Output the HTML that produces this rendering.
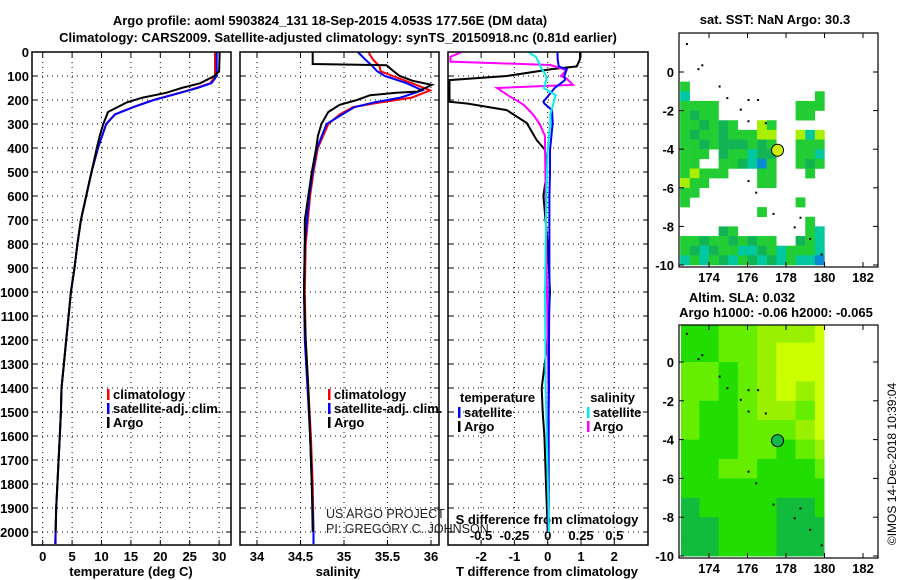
<!DOCTYPE html>
<html><head><meta charset="utf-8"><style>
html,body{margin:0;padding:0;background:#fff;}
svg{display:block;font-family:"Liberation Sans",Arial,sans-serif;}
.b{font-weight:bold;font-size:13px;}
</style></head><body>
<svg id="c" width="900" height="580" xmlns="http://www.w3.org/2000/svg">
<text class="b" x="330" y="25" text-anchor="middle" font-size="14">Argo profile: aoml 5903824_131 18-Sep-2015 4.053S 177.56E (DM data)</text>
<text class="b" x="338" y="42" text-anchor="middle" font-size="14">Climatology: CARS2009. Satellite-adjusted climatology: synTS_20150918.nc (0.81d earlier)</text>
</svg>
<script>
// ---- data ----
const depthTicks=[0,100,200,300,400,500,600,700,800,900,1000,1100,1200,1300,1400,1500,1600,1700,1800,1900,2000];
const tempTicks=[0,5,10,15,20,25,30];
const salTicks=[34,34.5,35,35.5,36];
const tdiffTicks=[-2,-1,0,1,2];
const sdiffTicks=[-0.5,-0.25,0,0.25,0.5];
const sdiffTickLabels=["-0.5","-0.25","0","0.25","0.5"];
const tArgoDepth=[0,80,100,130,150,170,190,210,250,300,350,400,500,600,700,800,900,1000,1100,1200,1300,1400,1500,1600,1700,1800,1900,2000];
const tArgo=[30.1,30.0,29.2,26.8,23.6,21,17,14.3,11.1,10.3,9.7,9.2,8.3,7.4,6.5,5.9,5.4,4.8,4.4,4.0,3.6,3.2,3.1,2.9,2.7,2.5,2.3,2.2];
const tClimDepth=[0,90,100,130,150,170,200,230,260,300,350,400,500,600,700,800,900,1000,1100,1200,1300,1400,1500,1600,1700,1800,1900,2000,2050];
const tClim=[29.3,29.3,29.3,28.5,26.1,23.3,18.8,15.3,12.3,10.8,10.1,9.4,8.3,7.4,6.5,5.9,5.4,4.8,4.4,4.0,3.6,3.2,3.1,2.9,2.7,2.5,2.3,2.2,2.1];
const tSat=[29.6,29.6,29.6,28.7,26.3,23.4,18.9,15.4,12.3,10.8,10.1,9.4,8.3,7.4,6.5,5.9,5.4,4.8,4.4,4.0,3.6,3.2,3.1,2.9,2.7,2.5,2.3,2.2,2.2];
const sArgoDepth=[0,50,55,80,100,120,137,165,170,180,200,220,250,300,350,400,500,600,700,800,1000,1200,1400,1600,1800,2000];
const sArgo=[34.64,34.64,35.49,35.57,35.64,35.79,36.01,35.84,35.6,35.3,35.15,34.95,34.82,34.74,34.7,34.68,34.63,34.59,34.55,34.55,34.54,34.56,34.59,34.61,34.63,34.64];
const sClimDepth=[0,30,60,80,100,130,160,190,210,230,260,300,400,500,600,800,1000,1200,1400,1600,1800,2000,2050];
const sClim=[35.28,35.33,35.41,35.42,35.56,35.78,35.99,35.78,35.42,35.1,34.95,34.82,34.7,34.65,34.61,34.56,34.55,34.56,34.59,34.62,34.64,34.65,34.65];
const sSat=[35.16,35.24,35.33,35.38,35.47,35.72,35.9,35.65,35.35,35.12,34.98,34.8,34.69,34.64,34.6,34.55,34.54,34.55,34.58,34.61,34.63,34.65,34.65];
const dDepth=[0,30,60,72,100,117,150,207,215,242,296,367,408,505,600,800,1000,1200,1400,1500,1600,1800,2000];
const dTArgo=[0.97,0.97,0.87,0.1,-1.23,-2.95,-2.95,-2.95,-2.4,-1.23,-0.63,-0.33,-0.08,-0.03,-0.13,0.0,0.07,0.0,-0.18,-0.15,-0.1,-0.05,0.0];
const dTSat=[0.29,0.3,0.33,0.57,0.5,0.52,0.21,-0.13,-0.1,0.13,0.15,0.1,0.07,0.07,0.05,0.05,0.05,0.04,0.04,0.03,0.03,0.03,0.03];
const dSDepth=[0,20,40,54,75,100,110,137,150,180,220,260,300,350,400,600,1000,1400,2000];
const dSArgo=[-0.645,-0.73,-0.73,0.02,0.14,0.1,0.14,0.19,-0.38,-0.3,-0.18,-0.11,-0.06,-0.02,-0.02,-0.015,-0.005,0.005,0.005];
const dSSat=[-0.145,-0.09,-0.07,-0.06,-0.04,-0.01,-0.01,-0.02,-0.03,0.06,0.04,0.02,0.02,0.01,0.0,-0.01,-0.02,-0.015,0.01];
// SST map mask rows, lat top from -0.5 step -0.5; cols lon 172.5.. step 0.5
const sstRows=[
"g..............",
"t.............g",
"gggg........ggg",
"gdgg........gg.",
"ggdgdg..yg.....",
"gdggdgggyy..yty",
"ggdgdddgdg..gggd",
"ggg.dggtdd..ggt.",
"gg..ggdtkg..gdgt",
"gyggg...gg...g..",
"ygg.....gg......",
"gg..............",
"g...........g...",
"........g.......",
".............g..",
"....dg.......gt.",
"ggdggdgdgg..dgtt",
"gdtdggttdgtgggtt",
"tgtgdtgdtdtgttkt"];
const sstColors={g:"#22cc33",d:"#11b455",t:"#00c8a0",y:"#aaee00",k:"#0a8ad0"};
// SLA levels: rows lat 2..-10 by 1 deg, cols 172.5..180.5 by 1 deg
const slaRows=[
[1,1,2,2,3,3,3,4],[1,1,2,2,3,4,4,4],[2,2,1,2,3,4,4,4],[2,2,1,2,3,4,3,4],
[2,1,1,2,3,3,2,4],[2,1,1,2,2,2,3,4],[1,1,1,2,2,1,2,3],[1,1,2,2,1,1,1,2],
[1,1,1,1,1,1,1,1],[0,1,1,1,1,0,0,1],[0,0,1,1,1,0,0,0],[0,0,1,1,1,0,0,0]];
const slaColors=["#11bb3c","#22dd00","#66ee00","#99f000","#ccff00"];
const islandLon=[172.8,173.4,173.6,174.5,174.9,175.6,176.0,176.5,176.0,176.9,176.0,176.4,177.3,178.4,178.7,179.2,179.8];
const islandLat=[1.5,0.2,0.4,-0.7,-1.3,-1.9,-1.4,-1.4,-2.5,-2.6,-5.6,-6.2,-7.3,-8.0,-7.5,-8.6,-9.4];
const argoLon=177.56, argoLat=-4.053;

// ---- helpers ----
const svg=document.getElementById('c');
const NS="http://www.w3.org/2000/svg";
function mk(tag,attrs,parent){const e=document.createElementNS(NS,tag);for(const k in attrs)e.setAttribute(k,attrs[k]);(parent||svg).appendChild(e);return e;}
const yD=d=>52+d*0.24;
const xT=t=>42.7+t*5.88;
const xS=s=>257+(s-34)*87;
const xDT=t=>547.7+t*33.3;
const xDS=s=>547.7+s*133.3;

function panel(x0,x1,name){
  const g=mk('g',{});
  
  
  depthTicks.forEach(d=>{mk('line',{x1:x0,x2:x1,y1:yD(d),y2:yD(d),stroke:'#000','stroke-dasharray':'1,4'},g);
    mk('line',{x1:x0,x2:x0+5,y1:yD(d),y2:yD(d),stroke:'#000'},g);mk('line',{x1:x1-5,x2:x1,y1:yD(d),y2:yD(d),stroke:'#000'},g);});
  return g;
}
function vgrid(g,xs,x0){xs.forEach(x=>{mk('line',{x1:x,x2:x,y1:52,y2:545,stroke:'#000','stroke-dasharray':'1,4'},g);
  mk('line',{x1:x,x2:x,y1:540,y2:545,stroke:'#000'},g);mk('line',{x1:x,x2:x,y1:52,y2:57,stroke:'#000'},g);});}
function frame(g,x0,x1){mk('rect',{x:x0,y:52,width:x1-x0,height:493,fill:'none',stroke:'#000','stroke-width':1.5},g);}
function line(g,xs,ds,fx,col,name){
  const p=xs.map((v,i)=>fx(v).toFixed(1)+','+yD(ds[i]).toFixed(1)).join(' ');
  const e=mk('polyline',{points:p,fill:'none',stroke:col,'stroke-width':2},g);
  
  
}
function txt(g,x,y,s,attrs){const e=mk('text',Object.assign({x:x,y:y},attrs||{}),g);e.textContent=s;return e;}

// ---- panel 1 temperature ----
let g1=panel(32,231,'temperature-panel');
vgrid(g1,tempTicks.map(xT));
depthTicks.forEach(d=>{const t=txt(g1,29,yD(d)+5,String(d),{class:'b','text-anchor':'end'});
  
  });
tempTicks.forEach(v=>{const t=txt(g1,xT(v),561,String(v),{class:'b','text-anchor':'middle'});
  
  });
let ax1=txt(g1,131,576,'temperature (deg C)',{class:'b','text-anchor':'middle'});


line(g1,tClim,tClimDepth,xT,'#ff0000','temperature-climatology-line');
line(g1,tSat,tClimDepth,xT,'#0000ff','temperature-satellite-line');
line(g1,tArgo,tArgoDepth,xT,'#000000','temperature-argo-line');
frame(g1,32,231);

function legend(g,x,y,items,name){
  const lg=mk('g',{},g);
  
  
  items.forEach((it,i)=>{mk('rect',{x:x,y:y+i*14-9,width:2.5,height:11,fill:it[1]},lg);
    txt(lg,x+6,y+i*14+1,it[0],{class:'b'});});
}
legend(g1,107,398,[['climatology','#ff0000'],['satellite-adj. clim.','#0000ff'],['Argo','#000000']],'temperature-legend');

// ---- panel 2 salinity ----
let g2=panel(240,439,'salinity-panel');
vgrid(g2,salTicks.map(xS));
salTicks.forEach(v=>{const t=txt(g2,xS(v),561,String(v),{class:'b','text-anchor':'middle'});
  
  });
let ax2=txt(g2,338,576,'salinity',{class:'b','text-anchor':'middle'});


line(g2,sClim,sClimDepth,xS,'#ff0000','salinity-climatology-line');
line(g2,sSat,sClimDepth,xS,'#0000ff','salinity-satellite-line');
line(g2,sArgo,sArgoDepth,xS,'#000000','salinity-argo-line');
frame(g2,240,439);
legend(g2,328,398,[['climatology','#ff0000'],['satellite-adj. clim.','#0000ff'],['Argo','#000000']],'salinity-legend');
let pr=txt(svg,326,518,'US ARGO PROJECT',{'font-size':12.5,fill:'#222'});


let pi=txt(svg,326,533,'PI: GREGORY C. JOHNSON',{'font-size':12.5,fill:'#222'});



// ---- panel 3 differences ----
let g3=panel(448,648,'difference-panel');
vgrid(g3,tdiffTicks.map(xDT));
tdiffTicks.forEach(v=>{const t=txt(g3,xDT(v),561,String(v),{class:'b','text-anchor':'middle'});
  
  });
sdiffTicks.forEach((v,i)=>{const t=txt(g3,xDS(v),540,sdiffTickLabels[i],{class:'b','text-anchor':'middle'});
  
  });
let ax3=txt(g3,547,576,'T difference from climatology',{class:'b','text-anchor':'middle'});


let ax3b=txt(g3,547,524,'S difference from climatology',{class:'b','text-anchor':'middle'});


const clip=mk('clipPath',{id:'cp3'},g3);mk('rect',{x:448,y:52,width:200,height:493},clip);
const g3c=mk('g',{'clip-path':'url(#cp3)'},g3);
line(g3c,dTArgo,dDepth,xDT,'#000000','tdiff-argo-line');
line(g3c,dSArgo,dSDepth,xDS,'#ff00ff','sdiff-argo-line');
line(g3c,dTSat,dDepth,xDT,'#0000ff','tdiff-satellite-line');
line(g3c,dSSat,dSDepth,xDS,'#00eeee','sdiff-satellite-line');
frame(g3,448,648);
let tl=txt(g3,460,402,'temperature',{class:'b'});


let sl=txt(g3,635,402,'salinity',{class:'b','text-anchor':'end'});


legend(g3,458,416,[['satellite','#0000ff'],['Argo','#000000']],'tdiff-legend');
legend(g3,587,416,[['satellite','#00eeee'],['Argo','#ff00ff']],'sdiff-legend');

// ---- maps ----
function map(top,bot,lat0y,latScale,name,title){
  const g=mk('g',{});
  
  
  const X=lon=>709+(lon-174)*19.25;
  const Y=lat=>lat0y-lat*latScale;
  return {g,X,Y};
}
// top SST map
const m1=map(33,267,72,19.3,'sst-map');
const cpm1=mk('clipPath',{id:'cpm1'},m1.g);mk('rect',{x:679,y:33,width:199,height:234},cpm1);
const sg=mk('g',{'clip-path':'url(#cpm1)'},m1.g);
sstRows.forEach((row,r)=>{for(let c=0;c<row.length&&c<15;c++){const ch=row[c];if(ch==='.')continue;
  const lon=172.5+c*0.5, lat=-0.5-r*0.5;
  const e=mk('rect',{x:m1.X(lon),y:m1.Y(lat),width:9.8,height:9.9,fill:sstColors[ch]},sg);
  
  }});
// bottom SLA map
const m2=map(325,558,362,19.4,'sla-map');
const cpm2=mk('clipPath',{id:'cpm2'},m2.g);mk('rect',{x:681,y:325,width:m2.X(180)-681,height:233},cpm2);
const lg2=mk('g',{'clip-path':'url(#cpm2)'},m2.g);
slaRows.forEach((row,r)=>row.forEach((lv,c)=>{const lon=172.5+c, lat=2-r;
  const e=mk('rect',{x:m2.X(lon),y:m2.Y(lat),width:19.6,height:19.8,fill:slaColors[lv]},lg2);
  
  }));
[m1,m2].forEach((m,i)=>{
  const top=i?325:33, bot=i?558:267;
  islandLon.forEach((lo,k)=>{if(i===0&&islandLat[k]<-10)return;const e=mk('rect',{x:m.X(lo),y:m.Y(islandLat[k]),width:2,height:2,fill:'#000'},m.g);
    
    });
  const c=mk('circle',{cx:m.X(argoLon),cy:m.Y(argoLat),r:6,fill:i?'#11b84a':'#ccee00',stroke:'#000'},m.g);
  
  
  mk('rect',{x:679,y:top,width:199,height:bot-top,fill:'none',stroke:'#000','stroke-width':1.2},m.g);
  [0,-2,-4,-6,-8,-10].forEach(l=>{mk('line',{x1:679,x2:684,y1:m.Y(l),y2:m.Y(l),stroke:'#000'},m.g);
    mk('line',{x1:873,x2:878,y1:m.Y(l),y2:m.Y(l),stroke:'#000'},m.g);
    const t=txt(m.g,674,m.Y(l)+5,String(l),{class:'b','text-anchor':'end'});
    
    });
  [174,176,178,180,182].forEach(lo=>{mk('line',{x1:m.X(lo),x2:m.X(lo),y1:bot-5,y2:bot,stroke:'#000'},m.g);
    mk('line',{x1:m.X(lo),x2:m.X(lo),y1:top,y2:top+5,stroke:'#000'},m.g);
    const t=txt(m.g,m.X(lo),bot+15,String(lo),{class:'b','text-anchor':'middle'});
    
    });
});
let mt1=txt(svg,775,24,'sat. SST: NaN Argo: 30.3',{class:'b','text-anchor':'middle'});


let mt2=txt(svg,742,302,'Altim. SLA: 0.032',{class:'b','text-anchor':'middle'});


let mt3=txt(svg,776,317,'Argo h1000: -0.06 h2000: -0.065',{class:'b','text-anchor':'middle'});


let im=txt(svg,0,0,'©IMOS 14-Dec-2018 10:39:04',{'font-size':12,'text-anchor':'middle',transform:'translate(896,464) rotate(-90)'});


</script>
</body></html>
